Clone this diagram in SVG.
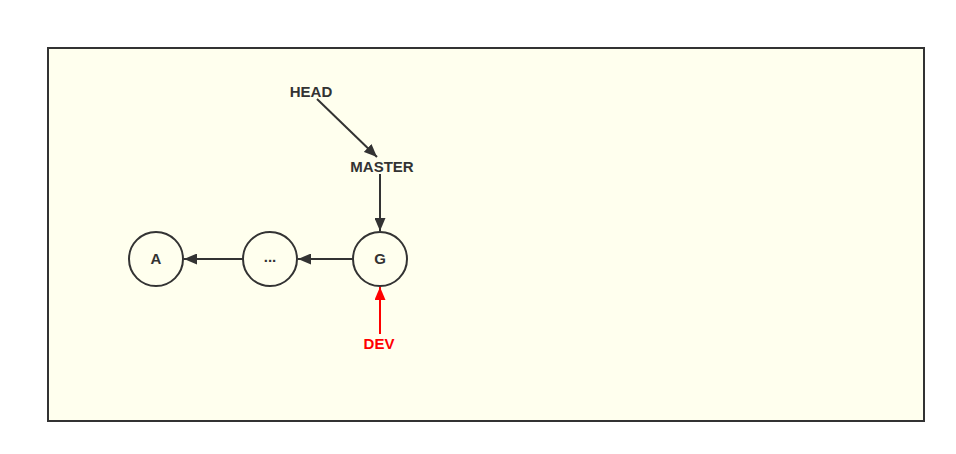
<svg xmlns="http://www.w3.org/2000/svg" width="956" height="454" viewBox="0 0 956 454">
<defs>
<style>
.lbl{font-family:"Liberation Sans",Arial,sans-serif;font-weight:bold;font-size:15px;text-anchor:middle;dominant-baseline:central;fill:#333}
.node circle{fill:none;stroke:#333;stroke-width:2}
.edge{stroke:#333;stroke-width:2;fill:none}
</style>
<marker id="ah" markerWidth="13" markerHeight="11" refX="13" refY="5.5" orient="auto" markerUnits="userSpaceOnUse"><path d="M0,0 L13,5.5 L0,11 Z" fill="#333"/></marker>
<marker id="ahr" markerWidth="13" markerHeight="11" refX="13" refY="5.5" orient="auto" markerUnits="userSpaceOnUse"><path d="M0,0 L13,5.5 L0,11 Z" fill="#f00"/></marker>
</defs>
<rect width="956" height="454" fill="#fff"/>
<rect x="48" y="48" width="876" height="373" fill="#ffffee" stroke="#333" stroke-width="2"/>
<g id="connectors">
<line class="edge" x1="317" y1="99" x2="377" y2="157" marker-end="url(#ah)"/>
<line class="edge" x1="380" y1="174" x2="380" y2="231" marker-end="url(#ah)"/>
<line class="edge" x1="353" y1="259" x2="298" y2="259" marker-end="url(#ah)"/>
<line class="edge" x1="243" y1="259" x2="184" y2="259" marker-end="url(#ah)"/>
<line x1="380" y1="334" x2="380" y2="287" stroke="#f00" stroke-width="2" marker-end="url(#ahr)"/>
</g>
<g id="head"><text class="lbl" x="311" y="91">HEAD</text></g>
<g id="master"><text class="lbl" x="382" y="166">MASTER</text></g>
<g id="dev"><text class="lbl" x="379" y="343" style="fill:#f00">DEV</text></g>
<g id="nodeA" class="node"><circle cx="156" cy="259" r="27"/><text class="lbl" x="156" y="258">A</text></g>
<g id="nodeDots" class="node"><circle cx="270" cy="259" r="27"/><text class="lbl" x="270" y="256">...</text></g>
<g id="nodeG" class="node"><circle cx="380" cy="259" r="27"/><text class="lbl" x="380" y="258">G</text></g>
</svg>
